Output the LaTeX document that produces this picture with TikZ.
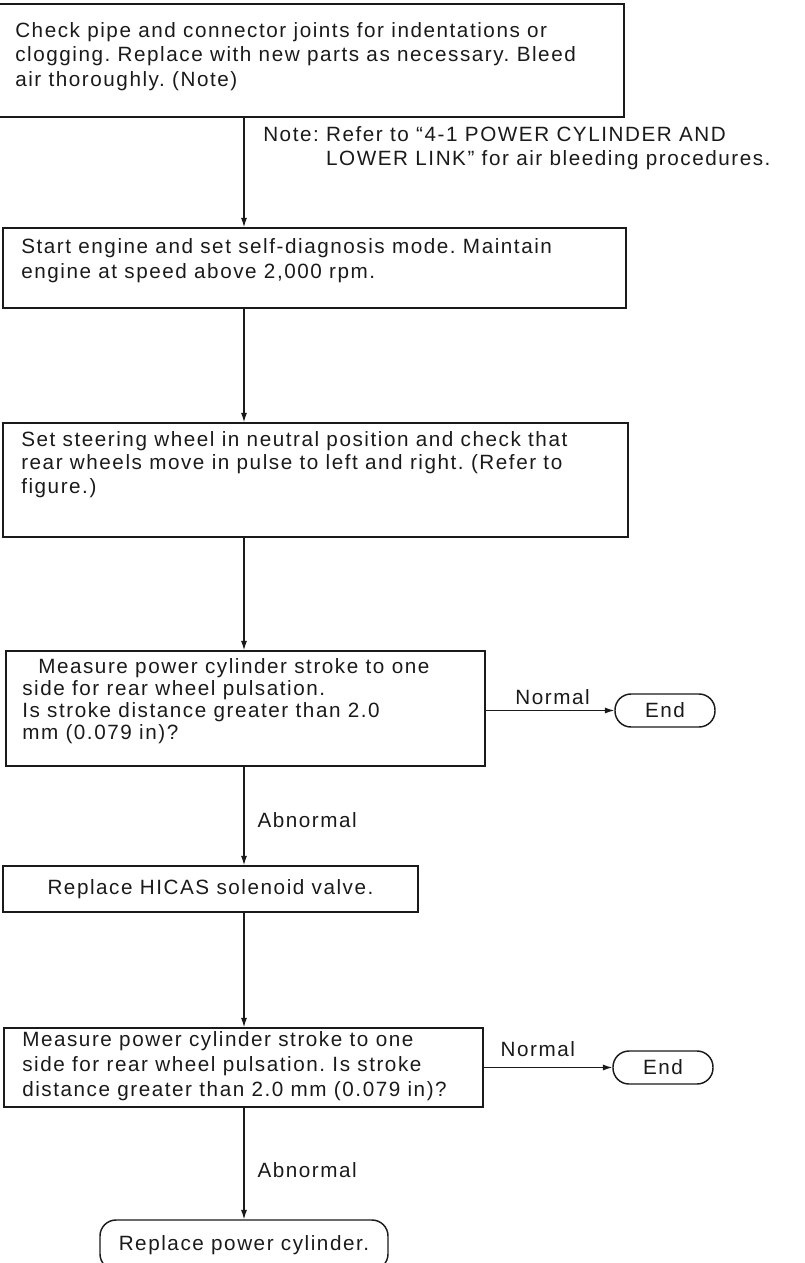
\documentclass[tikz,border=0pt]{standalone}
\usepackage{fontspec}
\setmainfont{Liberation Sans}[LetterSpace=7.5]
\usetikzlibrary{arrows.meta,calc}
\definecolor{ink}{HTML}{1A1A1A}
\frenchspacing
\begin{document}
\begin{tikzpicture}[x=0.75pt,y=-0.75pt,
  box/.style={draw=ink,line width=1.2pt,rectangle,inner sep=0pt,text=ink,
    font=\fontsize{15.5pt}{18.4pt}\selectfont},
  term/.style={draw=ink,line width=1.1pt,rectangle,rounded corners=12pt,inner sep=0pt,text=ink,
    font=\fontsize{15.5pt}{18.4pt}\selectfont},
  txt/.style={inner sep=0pt,align=left,text=ink,font=\fontsize{15.5pt}{18.4pt}\selectfont},
  lbl/.style={inner sep=0pt,text=ink,font=\fontsize{15.5pt}{18.4pt}\selectfont},
  arr/.style={draw=ink,line width=0.8pt,-{Latex[length=7pt,width=4.5pt]}}]
\useasboundingbox (0,0) rectangle (804,1263);
\coordinate (ax) at (244,0);
% boxes
\node[box, minimum width=469.5pt, minimum height=84.75pt] (b1) at (311,60.5) {};
\node[txt, anchor=north west] (t1) at (15,22)
  {Check pipe and connector joints for indentations or\\clogging. Replace with new parts as necessary. Bleed\\air thoroughly. (Note)};
\node[txt, anchor=north west] (note) at (263,126)
  {Note: Refer to “4-1 POWER CYLINDER AND\\\phantom{Note: }LOWER LINK” for air bleeding procedures.};
\node[box, minimum width=467.25pt, minimum height=60pt] (b2) at (314.5,268) {};
\node[txt, anchor=north west, font=\fontsize{15.5pt}{18.75pt}\selectfont] (t2) at (21,238)
  {Start engine and set self-diagnosis mode. Maintain\\engine at speed above 2,000 rpm.};
\node[box, minimum width=468.75pt, minimum height=85.5pt] (b3) at (315.5,480) {};
\node[txt, anchor=north west, font=\fontsize{15.5pt}{17.6pt}\selectfont] (t3) at (21,431)
  {Set steering wheel in neutral position and check that\\rear wheels move in pulse to left and right. (Refer to\\figure.)};
\node[box, minimum width=359.25pt, minimum height=86.25pt] (b4) at (245.5,708.5) {};
\node[txt, anchor=north west, font=\fontsize{15.5pt}{16.5pt}\selectfont] (t4) at (22,658)
  {\hspace*{12pt}Measure power cylinder stroke to one\\side for rear wheel pulsation.\\Is stroke distance greater than 2.0\\mm (0.079 in)?};
\node[term, minimum width=75pt, minimum height=24.75pt] (e1) at (665,710.5) {End};
\node[box, minimum width=311.25pt, minimum height=34.5pt] (b5) at (210.5,889) {Replace HICAS solenoid valve.};
\node[box, minimum width=359.25pt, minimum height=59.25pt] (b6) at (243.5,1067.5) {};
\node[txt, anchor=north west, font=\fontsize{15.5pt}{18.75pt}\selectfont] (t6) at (22,1031)
  {Measure power cylinder stroke to one\\side for rear wheel pulsation. Is stroke\\distance greater than 2.0 mm (0.079 in)?};
\node[term, minimum width=75pt, minimum height=24.75pt] (e2) at (663,1067.5) {End};
\node[term, minimum width=216pt, minimum height=37.5pt] (fin) at (244,1245) {Replace power cylinder.};
% connectors
\draw[arr] (b1.south -| ax) -- (b2.north -| ax);
\draw[arr] (b2.south -| ax) -- (b3.north -| ax);
\draw[arr] (b3.south -| ax) -- (b4.north -| ax);
\draw[arr] (b4.south -| ax) -- node[lbl, pos=0.54, anchor=west, xshift=9.75pt] (ab1) {Abnormal} (b5.north -| ax);
\draw[arr] (b5.south -| ax) -- (b6.north -| ax);
\draw[arr] (b6.south -| ax) -- node[lbl, pos=0.56, anchor=west, xshift=9.75pt] (ab2) {Abnormal} (fin.north -| ax);
\draw[arr] (e1.west -| b4.east) -- node[lbl, pos=0.52, anchor=south, yshift=3.75pt] (n1) {Normal} (e1.west);
\draw[arr] (b6.east) -- node[lbl, pos=0.42, anchor=south, yshift=7.5pt] (n2) {Normal} (e2.west);
\end{tikzpicture}
\end{document}
